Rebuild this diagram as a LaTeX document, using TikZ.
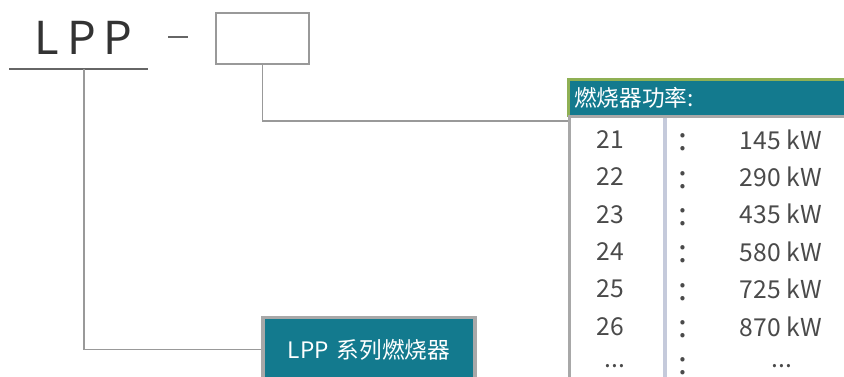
\documentclass[tikz,border=0pt]{standalone}
\usepackage{fontspec}
\setmainfont{Noto Sans CJK SC}
\usetikzlibrary{positioning}
\definecolor{teal1}{HTML}{137A8E}
\definecolor{leaf}{HTML}{8FB054}
\definecolor{rule1}{HTML}{666666}
\definecolor{rule2}{HTML}{999999}
\definecolor{frame1}{HTML}{A8A8A8}
\definecolor{split}{HTML}{C5CADB}
\definecolor{ink}{HTML}{4A4A4A}
\tikzset{
  conn/.style={draw=rule2, line width=1.1pt},
  cell/.style={text=ink, font=\fontsize{18.5}{20}\selectfont, inner sep=0pt},
  sep/.style={text=ink, font=\fontsize{24}{26}\selectfont, inner sep=0pt},
  whitetext/.style={text=white, font=\fontsize{17}{20}\selectfont},
}
\begin{document}
\begin{tikzpicture}[x=0.75pt,y=-0.75pt]
    \useasboundingbox (0,0) rectangle (844,377);

    % model code
    \node[text=black!80, font=\fontsize{34}{36}\selectfont, inner sep=0pt] (lpp) at (83.5,38) {L\hspace{6pt}P\hspace{6pt}P};
    \draw [rule1, line width=1.5pt] (9,69) -- (148,69) coordinate[pos=0.54] (lppfoot);
    \draw [rule1, line width=1pt] (168,37) -- (188,37);
    \node[draw=rule2, line width=1.1pt, minimum width=93*0.75pt, minimum height=51*0.75pt] (code) at (262.5,38.5) {};

    % power table header
    \fill [teal1] (568,79) rectangle (846,117);
    \node[whitetext, anchor=west, inner sep=0pt] (powerhead) at (574,98) {燃烧器功率:};
    \draw [leaf, line width=2.3pt] (568.5,117) -- (568.5,79.8) -- (846,79.8);
    \draw [frame1, line width=2.3pt] (568,116.8) -- (846,116.8);
    \draw [frame1, line width=2.3pt] (569.5,117) -- (569.5,380);
    \draw [split, line width=2.3pt] (665,118) -- (665,380);
    \coordinate (tabin) at (568,121);

    % rows
    \foreach \n/\p [count=\i from 0] in {21/145,22/290,23/435,24/580,25/725,26/870} {
        \node[cell] (num\n) at (610,139.5+37.4*\i) {\n};
        \node[sep] (col\n) at (683,142.5+37.4*\i) {:};
        \node[cell, anchor=east] (pow\n) at (822,139.5+37.4*\i) {\p\ kW};
    }
    \node[cell] (numdots) at (615,366) {...};
    \node[sep] (coldots) at (683,366) {:};
    \node[cell] (powdots) at (782,366) {...};

    % series box
    \node[fill=teal1, draw=frame1, line width=2.3pt, minimum width=212*0.75pt, minimum height=64*0.75pt, whitetext] (series) at (369,349.5) {LPP\hspace{6pt}系列燃烧器};

    \draw [conn] (code.south) |- (tabin);
    \draw [conn] (lppfoot) |- (series.west);
\end{tikzpicture}
\end{document}
